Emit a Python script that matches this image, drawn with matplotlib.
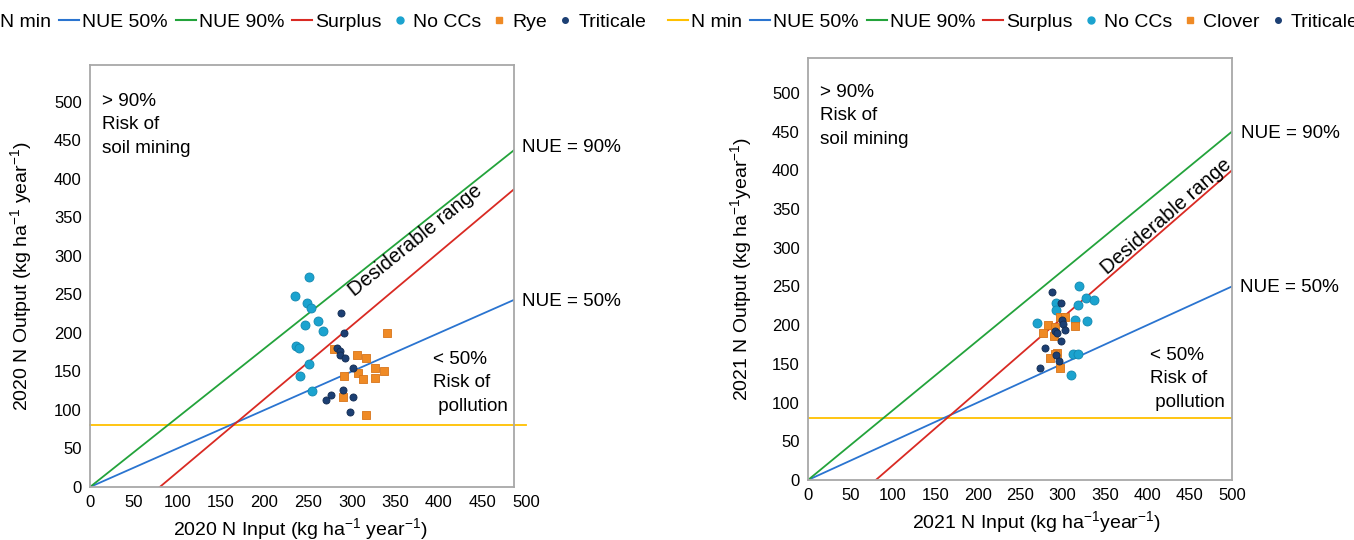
import numpy as np
import matplotlib
matplotlib.use('Agg')
import matplotlib.pyplot as plt
from matplotlib.lines import Line2D

plt.rcParams['font.family'] = ['Liberation Sans', 'DejaVu Sans']
plt.rcParams['mathtext.fontset'] = 'custom'
plt.rcParams['mathtext.rm'] = 'Liberation Sans'
plt.rcParams['mathtext.it'] = 'Liberation Sans:italic'

# reference lines (input, output)
nmin_x = [0, 500]
nmin_y = [80, 80]
nue50_x = [0, 500]
nue50_y = [0, 250]
nue90_x = [0, 500]
nue90_y = [0, 450]
surplus_x = [80, 500]
surplus_y = [0, 400]

# 2020 points
nocc20_x = [251, 235, 249, 253, 261, 247, 267, 236, 239, 251, 241, 255]
nocc20_y = [273, 248, 239, 232, 215, 210, 203, 183, 181, 160, 144, 125]
rye20_x = [341, 280, 306, 316, 327, 337, 291, 307, 313, 327, 290, 316]
rye20_y = [200, 179, 171, 167, 155, 151, 144, 148, 140, 141, 117, 94]
trit20_x = [288, 291, 283, 286, 287, 292, 302, 290, 301, 276, 270, 298]
trit20_y = [226, 200, 181, 177, 172, 167, 155, 126, 117, 119, 113, 98]

# 2021 points
nocc21_x = [320, 328, 337, 318, 292, 293, 270, 315, 329, 312, 318, 310]
nocc21_y = [251, 235, 232, 226, 228, 219, 203, 206, 205, 163, 163, 136]
clov21_x = [297, 303, 283, 291, 315, 277, 290, 294, 291, 285, 297]
clov21_y = [211, 211, 200, 198, 199, 190, 186, 164, 163, 158, 144]
trit21_x = [288, 298, 300, 301, 303, 291, 294, 298, 279, 293, 296, 274]
trit21_y = [243, 228, 207, 201, 194, 192, 190, 180, 170, 162, 154, 144]

c_nmin = '#ffc000'
c_50 = '#2a74d0'
c_90 = '#23a33b'
c_sur = '#d92a23'
c_nocc = '#1ba3cf'
c_cc = '#ef8a25'
c_trit = '#1c3f73'

fig = plt.figure(figsize=(13.54, 5.40), dpi=100)
ax1 = fig.add_axes([90/1354, 53/540, 424/1354, 422/540])
ax2 = fig.add_axes([808/1354, 60/540, 424/1354, 422/540])


def draw_panel(ax, xmax, ymax, nx, ny, cx, cy, tx, ty, xlab, ylab):
    ax.plot(nmin_x, nmin_y, color=c_nmin, lw=1.3, clip_on=(xmax >= 500), zorder=2)
    ax.plot(nue50_x, nue50_y, color=c_50, lw=1.3, zorder=2)
    ax.plot(nue90_x, nue90_y, color=c_90, lw=1.3, zorder=2)
    ax.plot(surplus_x, surplus_y, color=c_sur, lw=1.3, zorder=2)
    ax.scatter(nx, ny, s=42, color=c_nocc, edgecolor='#1288b0', lw=0.6, zorder=3)
    ax.scatter(cx, cy, s=28, marker='s', color=c_cc, edgecolor='#d8741a', lw=0.6, zorder=3)
    ax.scatter(tx, ty, s=26, color=c_trit, edgecolor='#132c52', lw=0.6, zorder=4)
    ax.set_xticks(np.arange(0, 501, 50))
    ax.set_yticks(np.arange(0, 501, 50))
    ax.set_xlim(0, xmax)
    ax.set_ylim(0, ymax)
    ax.tick_params(length=0, labelsize=12, pad=6)
    for s in ax.spines.values():
        s.set_color('#a8a8a8')
        s.set_linewidth(1.3)
    ax.set_xlabel(xlab, fontsize=14)
    ax.set_ylabel(ylab, fontsize=14)


draw_panel(ax1, 486, 548, nocc20_x, nocc20_y, rye20_x, rye20_y, trit20_x, trit20_y,
           r'2020 N Input (kg ha$^{-1}$ year$^{-1}$)', r'2020 N Output (kg ha$^{-1}$ year$^{-1}$)')
draw_panel(ax2, 500, 545, nocc21_x, nocc21_y, clov21_x, clov21_y, trit21_x, trit21_y,
           r'2021 N Input (kg ha$^{-1}$year$^{-1}$)', r'2021 N Output (kg ha$^{-1}$year$^{-1}$)')
ax1.xaxis.set_label_coords(0.495, -0.068)
ax2.xaxis.set_label_coords(0.54, -0.07)
ax1.yaxis.set_label_coords(-0.133, 0.5)
ax2.yaxis.set_label_coords(-0.128, 0.5)
# last tick label sits past the plot frame on the 2020 panel
ax1.annotate('500', xy=(500, 0), xycoords=('data', 'axes fraction'),
             xytext=(0, -6), textcoords='offset points', ha='center', va='top',
             fontsize=12, annotation_clip=False)

# annotations
fs = 13.6
ls = 1.5
ax1.text(14, 512, '> 90%\nRisk of\nsoil mining', fontsize=fs, va='top', linespacing=ls)
ax1.text(495, 441, 'NUE = 90%', fontsize=fs, va='center', clip_on=False)
ax1.text(495, 241, 'NUE = 50%', fontsize=fs, va='center', clip_on=False)
ax1.text(393, 177, '< 50%\nRisk of\n pollution', fontsize=fs, va='top', linespacing=ls)
ax1.text(373, 320, 'Desiderable range', fontsize=14.6, rotation=39, ha='center', va='center',
         rotation_mode='anchor')

ax2.text(14, 512, '> 90%\nRisk of\nsoil mining', fontsize=fs, va='top', linespacing=ls)
ax2.text(511, 448, 'NUE = 90%', fontsize=fs, va='center', clip_on=False)
ax2.text(509, 249, 'NUE = 50%', fontsize=fs, va='center', clip_on=False)
ax2.text(403, 172, '< 50%\nRisk of\n pollution', fontsize=fs, va='top', linespacing=ls)
ax2.text(423, 340, 'Desiderable range', fontsize=14.6, rotation=41, ha='center', va='center',
         rotation_mode='anchor')


def legend_handles(cc_name):
    h = [Line2D([], [], color=c_nmin, lw=1.5),
         Line2D([], [], color=c_50, lw=1.5),
         Line2D([], [], color=c_90, lw=1.5),
         Line2D([], [], color=c_sur, lw=1.5),
         Line2D([], [], ls='', marker='o', ms=5, color=c_nocc),
         Line2D([], [], ls='', marker='s', ms=4.5, color=c_cc),
         Line2D([], [], ls='', marker='o', ms=4, color=c_trit)]
    lab = ['N min', 'NUE 50%', 'NUE 90%', 'Surplus', 'No CCs', cc_name, 'Triticale']
    return h, lab


for x0, name in [(-0.017, 'Rye'), (668/1354, 'Clover')]:
    h, lab = legend_handles(name)
    fig.legend(h, lab, loc='center left', bbox_to_anchor=(x0, 1 - 22/540), ncol=7,
               frameon=False, fontsize=14, handlelength=1.03, handletextpad=0.15,
               columnspacing=0.42, borderpad=0, borderaxespad=0)

fig.savefig('out.png', dpi=100)
